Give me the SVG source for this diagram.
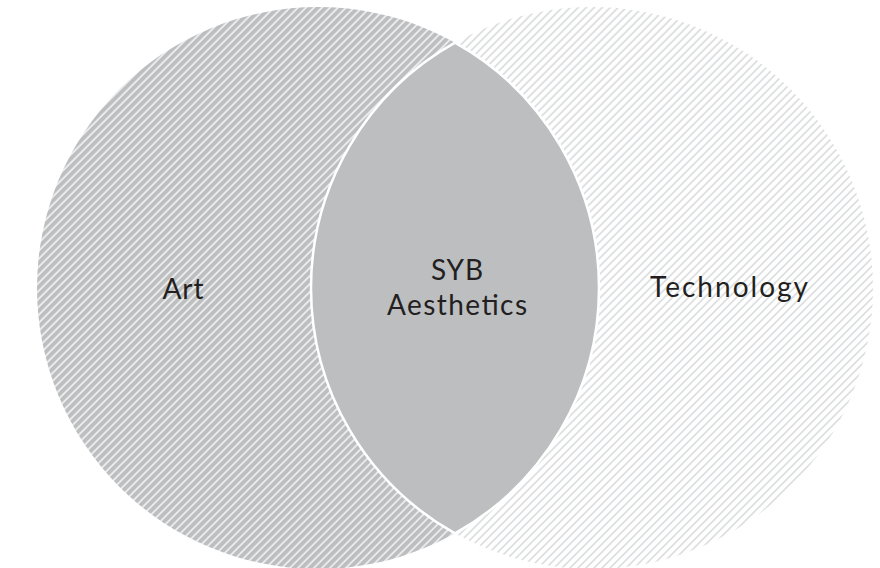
<svg xmlns="http://www.w3.org/2000/svg" width="880" height="568" viewBox="0 0 880 568">
<style>
.lbl{font-family:"Lato","Noto Sans","Liberation Sans",sans-serif;font-size:28px;fill:#231f20;text-anchor:middle}
</style>
<defs>
<pattern id="hatchDark" patternUnits="userSpaceOnUse" width="5.66" height="20" patternTransform="rotate(45)">
<rect x="0" y="0" width="5.66" height="20" fill="#bcbec0"/>
<line x1="1" y1="0" x2="1" y2="20" stroke="#ffffff" stroke-width="1.3"/>
</pattern>
<pattern id="hatchLight" patternUnits="userSpaceOnUse" width="5.66" height="20" patternTransform="rotate(45)">
<rect x="0" y="0" width="5.66" height="20" fill="#ffffff"/>
<line x1="1" y1="0" x2="1" y2="20" stroke="#c2c4c6" stroke-width="1"/>
</pattern>
</defs>
<rect width="880" height="568" fill="#ffffff"/>
<g id="art">
<circle cx="318" cy="288" r="281" fill="url(#hatchDark)"/>
<text class="lbl" x="183" y="299" textLength="41" lengthAdjust="spacing">Art</text>
</g>
<g id="technology">
<circle cx="592" cy="288" r="281" fill="url(#hatchLight)"/>
<text class="lbl" x="729" y="297" textLength="158" lengthAdjust="spacing">Technology</text>
</g>
<g id="syb-aesthetics">
<path d="M455,42.66 A281,281 0 0 1 455,533.34 A281,281 0 0 1 455,42.66 Z" fill="#bcbec0" stroke="#ffffff" stroke-width="2.5"/>
<text class="lbl" x="457" y="280" textLength="52" lengthAdjust="spacing">SYB</text>
<text class="lbl" x="457" y="315" textLength="140" lengthAdjust="spacing">Aesthetics</text>
</g>
<g id="connectors"/>
</svg>
